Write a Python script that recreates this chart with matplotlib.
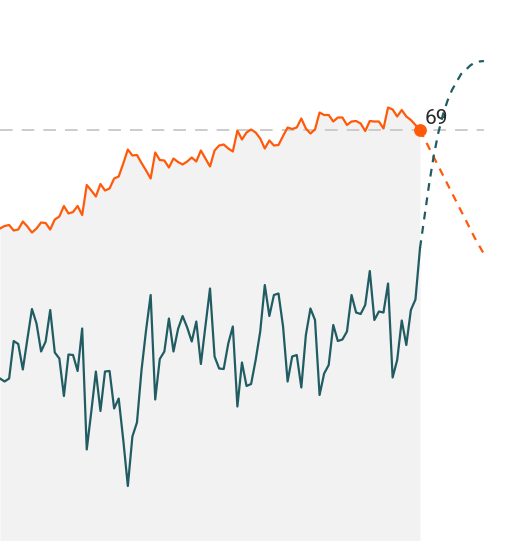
import matplotlib.pyplot as plt
import numpy as np

# orange series (index, ends at the reference value 69)
orange = [49.3, 49.8, 50.0, 48.9, 49.1, 50.7, 49.7, 48.5, 49.3, 50.5,
          50.4, 49.1, 51.1, 51.7, 53.8, 52.3, 52.6, 53.8, 52.0, 58.0,
          56.9, 55.7, 58.2, 56.9, 57.3, 59.3, 59.7, 62.3, 65.1, 63.9,
          64.0, 62.4, 60.9, 59.3, 64.5, 63.0, 62.9, 61.5, 63.3, 62.6,
          62.1, 62.7, 63.5, 62.7, 64.9, 63.3, 61.7, 64.9, 65.9, 66.1,
          65.3, 64.7, 68.9, 67.1, 68.5, 69.1, 68.5, 67.3, 65.3, 66.9,
          65.9, 66.0, 67.8, 69.5, 69.2, 69.5, 71.3, 69.3, 68.3, 69.1,
          72.5, 72.0, 72.0, 70.7, 71.5, 71.5, 70.0, 70.7, 70.8, 70.3,
          68.8, 70.8, 70.7, 70.7, 69.3, 73.5, 73.1, 71.7, 73.0, 71.7,
          71.0, 70.0, 69.0]

# teal series
teal = [19.3, 18.7, 19.3, 26.8, 26.2, 21.1, 27.2, 33.2, 30.3, 24.7,
        26.7, 33.0, 24.5, 23.3, 15.8, 24.1, 24.0, 20.8, 29.3, 5.1,
        12.7, 20.7, 12.8, 20.7, 20.8, 13.3, 15.3, 7.0, -2.2, 7.7,
        10.5, 21.0, 29.0, 36.0, 15.1, 23.2, 24.7, 31.3, 24.7, 29.2,
        31.8, 29.5, 26.7, 30.7, 22.2, 29.8, 37.3, 23.7, 21.3, 21.2,
        26.3, 29.7, 13.7, 22.5, 17.8, 18.2, 23.0, 28.7, 38.0, 31.8,
        36.0, 36.3, 29.7, 18.7, 23.7, 24.0, 17.5, 28.0, 33.3, 31.0,
        16.0, 20.3, 22.0, 30.0, 26.8, 27.1, 28.7, 36.0, 32.5, 32.2,
        34.0, 40.8, 31.0, 32.7, 32.5, 38.3, 19.5, 23.0, 30.9, 26.0,
        33.0, 35.1, 45.4]

# projections after the last observation
orange_proj = [69.0, 67.2, 65.4, 63.6, 61.8, 60.0, 58.2, 56.4, 54.6, 52.8,
               51.0, 49.2, 47.4, 45.8, 44.2]
teal_proj = [45.4, 51.8, 58.2, 63.8, 68.4, 72.0, 74.8, 77.0, 78.6, 80.2,
             81.0, 81.9, 82.5, 82.7, 82.8]

ref_value = 69

ORANGE = '#ff5a0a'
TEAL = '#215c63'

x = np.arange(len(orange)) - (len(orange) - 1)
xt = np.arange(len(teal)) - (len(teal) - 1)
xp = np.arange(len(orange_proj))

fig = plt.figure(figsize=(5.11, 5.41), dpi=100)
ax = fig.add_axes([0, 0, 1, 1])
ax.set_xlim(-92.0, 19.93)
ax.set_ylim(-13.2, 95)
ax.axis('off')

ax.fill_between(x, orange, -20, color='#f2f2f2', lw=0, zorder=1)
ax.plot([x[0], xp[-1]], [ref_value, ref_value], color='#c8c8c8', lw=1.3,
        dashes=(7, 5), zorder=2)

ax.plot(xt, teal, color=TEAL, lw=1.6, zorder=3)
ax.plot(x, orange, color=ORANGE, lw=1.6, zorder=3)
ax.plot(xp, orange_proj, color=ORANGE, lw=1.6, dashes=(3.5, 3), zorder=3)
ax.plot(xp, teal_proj, color=TEAL, lw=1.6, dashes=(3.5, 3), zorder=5)

ax.plot(x[-1], orange[-1], 'o', color=ORANGE, ms=8.2, zorder=6)
ax.annotate(str(ref_value), xy=(x[-1], orange[-1]), xytext=(3.5, 8.5),
            textcoords='offset points', ha='left', va='center',
            fontsize=15, color='#2a2a2a', family='Roboto', zorder=4)

fig.savefig('out.png', dpi=100)
